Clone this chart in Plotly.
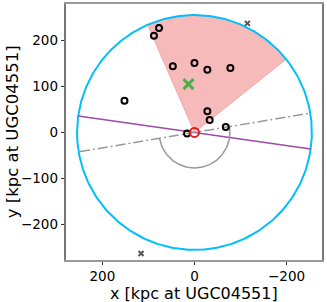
import numpy as np
import plotly.graph_objects as go

# --- data ---
sat_x = [152, 88, 77, 47, 0, -28, -78, -28, -33, -68, 16]
sat_y = [69, 210, 227, 144, 151, 136, 140, 46, 27, 12, -2]
host_x = [0]
host_y = [0]
centroid_x = [13]
centroid_y = [105]
far_x = [-115, 116]
far_y = [237, -263]

R_virial = 255          # blue circle radius
wedge_angles = [66.4, 141.4]   # deg, pink wedge edges
purple_angle = 8.1      # deg, purple line
dashdot_angle = -9.5    # deg, gray dash-dot line
arc_radius = 77         # gray half circle radius

xticks = [200, 0, -200]
yticks = [200, 100, 0, -100, -200]
x_range = [279, -277]
y_range = [-277, 279]

fig = go.Figure()

# wedge
th = np.radians(np.linspace(wedge_angles[0], wedge_angles[1], 80))
wx = np.concatenate([[0], R_virial * np.cos(th), [0]])
wy = np.concatenate([[0], R_virial * np.sin(th), [0]])
fig.add_trace(go.Scatter(x=wx, y=wy, mode="lines", fill="toself",
                         fillcolor="rgba(228,26,28,0.3)",
                         line=dict(color="rgba(228,26,28,0.3)", width=0.8),
                         hoverinfo="skip", showlegend=False))

# blue circle
tc = np.radians(np.linspace(0, 360, 361))
fig.add_trace(go.Scatter(x=R_virial * np.cos(tc), y=R_virial * np.sin(tc), mode="lines",
                         line=dict(color="#00bfff", width=2), showlegend=False))

# purple line
pa = np.radians(purple_angle)
fig.add_trace(go.Scatter(x=[R_virial * np.cos(pa), -R_virial * np.cos(pa)],
                         y=[R_virial * np.sin(pa), -R_virial * np.sin(pa)],
                         mode="lines", line=dict(color="#984ea3", width=1.5),
                         showlegend=False))

# dash-dot line
da = np.radians(dashdot_angle)
rd = 252
fig.add_trace(go.Scatter(x=[rd * np.cos(da), -rd * np.cos(da)],
                         y=[rd * np.sin(da), -rd * np.sin(da)],
                         mode="lines", line=dict(color="#999999", width=1.5, dash="10px,3px,2px,3px"),
                         showlegend=False))

# gray half circle below dash-dot line
ta = np.radians(np.linspace(dashdot_angle, dashdot_angle - 180, 100))
fig.add_trace(go.Scatter(x=arc_radius * np.cos(ta), y=arc_radius * np.sin(ta), mode="lines",
                         line=dict(color="#999999", width=1.5), showlegend=False))

# satellites
fig.add_trace(go.Scatter(x=sat_x, y=sat_y, mode="markers",
                         marker=dict(symbol="circle-open", size=6, color="black",
                                     line=dict(width=2, color="black")),
                         showlegend=False))

# host
fig.add_trace(go.Scatter(x=host_x, y=host_y, mode="markers",
                         marker=dict(symbol="circle-open", size=9, color="#e41a1c",
                                     line=dict(width=2, color="#e41a1c")),
                         showlegend=False))

# centroid
fig.add_trace(go.Scatter(x=centroid_x, y=centroid_y, mode="markers",
                         marker=dict(symbol="x-thin-open", size=10, color="#4daf4a",
                                     line=dict(width=3, color="#4daf4a")),
                         showlegend=False))

# far objects
fig.add_trace(go.Scatter(x=far_x, y=far_y, mode="markers",
                         marker=dict(symbol="x-thin-open", size=5, color="#555555",
                                     line=dict(width=2, color="#555555")),
                         showlegend=False))

axis_common = dict(showgrid=False, zeroline=False, showline=True, mirror=True,
                   automargin=False,
                   ticks="outside", ticklen=3.5, tickwidth=1, tickcolor="#333",
                   tickfont=dict(family="DejaVu Sans", size=13.5, color="black"))

fig.update_xaxes(range=x_range, tickvals=xticks, linecolor="#999999", linewidth=1.5, **axis_common)
fig.update_yaxes(range=y_range, tickvals=yticks, linecolor="#777777", linewidth=1.5, **axis_common)

title_font = dict(family="DejaVu Sans", size=16, color="black")
fig.add_annotation(text="x [kpc at UGC04551]", xref="paper", yref="paper",
                   x=0.5, y=-0.087, xanchor="center", yanchor="top",
                   showarrow=False, font=title_font)
fig.add_annotation(text="y [kpc at UGC04551]", xref="paper", yref="paper",
                   x=-0.165, y=0.5, xanchor="right", yanchor="middle", textangle=-90,
                   showarrow=False, font=dict(family="DejaVu Sans", size=16.5, color="black"))

fig.update_layout(width=327, height=302, margin=dict(l=66, r=5, t=4, b=42),
                  plot_bgcolor="white", paper_bgcolor="white")

fig.write_html("out.html", config={"displayModeBar": False},
               post_script="document.body.style.margin='0';")
